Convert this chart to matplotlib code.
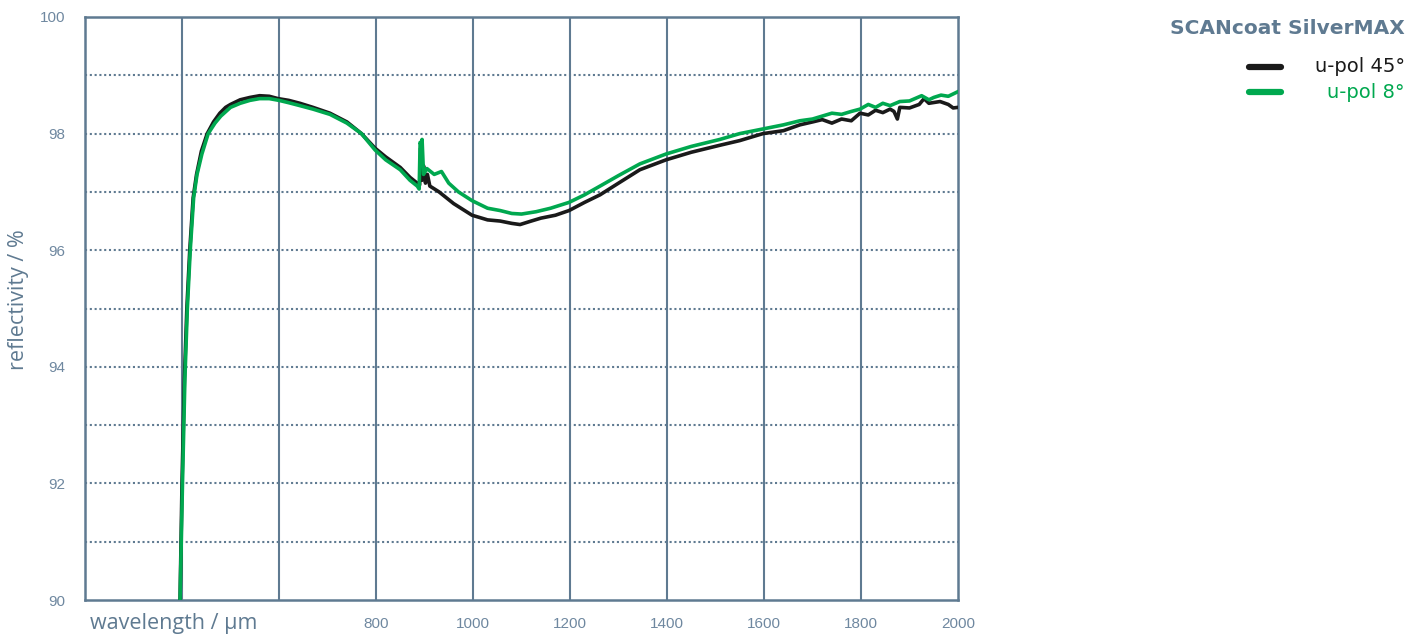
import matplotlib
matplotlib.use("Agg")
import matplotlib.pyplot as plt

# ---- data ----
wl_45 = [396, 400, 405, 410, 416, 423, 430, 440, 452, 465, 478, 490, 500, 520, 540, 560, 580, 598,
         620, 643, 670, 705, 740, 770, 798, 820, 850, 870, 885, 890, 892, 895, 898, 902, 906, 911,
         930, 960, 998, 1030, 1056, 1080, 1097, 1120, 1140, 1170, 1198, 1230, 1262, 1300, 1344,
         1398, 1450, 1509, 1550, 1598, 1640, 1674, 1700, 1720, 1740, 1760, 1780, 1798, 1815, 1830,
         1845, 1860, 1868, 1875, 1880, 1900, 1920, 1930, 1940, 1963, 1980, 1990, 2000]
r_45 = [90.0, 92.0, 93.8, 95.0, 96.0, 96.9, 97.3, 97.7, 98.0, 98.2, 98.35, 98.45, 98.5, 98.58, 98.62,
        98.65, 98.64, 98.6, 98.57, 98.52, 98.45, 98.35, 98.2, 98.0, 97.75, 97.6, 97.42, 97.25, 97.15,
        97.12, 97.75, 97.2, 97.45, 97.15, 97.3, 97.1, 97.0, 96.8, 96.6, 96.52, 96.5, 96.46, 96.44, 96.5,
        96.55, 96.6, 96.68, 96.82, 96.95, 97.15, 97.38, 97.55, 97.68, 97.8, 97.88, 98.0, 98.05, 98.15,
        98.2, 98.24, 98.18, 98.25, 98.22, 98.35, 98.32, 98.4, 98.36, 98.42, 98.38, 98.25, 98.45, 98.44,
        98.5, 98.6, 98.52, 98.55, 98.5, 98.44, 98.45]

wl_8 = [396, 401, 406, 411, 417, 424, 431, 441, 454, 468, 480, 500, 520, 540, 560, 580, 600, 620,
        643, 670, 705, 740, 770, 798, 820, 850, 870, 885, 889, 891, 893, 895, 898, 905, 920, 935, 950,
        970, 998, 1030, 1056, 1080, 1100, 1130, 1160, 1198, 1230, 1262, 1300, 1344, 1398, 1450, 1509,
        1550, 1598, 1640, 1674, 1700, 1720, 1740, 1760, 1780, 1798, 1815, 1830, 1845, 1860, 1880,
        1900, 1925, 1940, 1950, 1965, 1980, 2000]
r_8 = [90.0, 92.0, 93.8, 95.0, 96.0, 96.9, 97.3, 97.65, 98.0, 98.18, 98.3, 98.45, 98.52, 98.57, 98.6,
       98.6, 98.57, 98.53, 98.48, 98.42, 98.33, 98.18, 98.0, 97.72, 97.55, 97.38, 97.2, 97.1, 97.05,
       97.85, 97.8, 97.9, 97.3, 97.4, 97.3, 97.35, 97.15, 97.0, 96.85, 96.72, 96.68, 96.63, 96.62,
       96.66, 96.72, 96.82, 96.95, 97.1, 97.28, 97.48, 97.65, 97.78, 97.9, 98.0, 98.08, 98.15, 98.22,
       98.25, 98.3, 98.35, 98.33, 98.38, 98.42, 98.5, 98.45, 98.52, 98.48, 98.55, 98.56, 98.65, 98.58,
       98.62, 98.66, 98.64, 98.72]

x_ticks = [800, 1000, 1200, 1400, 1600, 1800, 2000]
y_ticks = [90, 92, 94, 96, 98, 100]
title = "SCANcoat SilverMAX"
labels = ["u-pol 45°", "u-pol 8°"]
colors = ["#1a1a1a", "#00a84f"]

axc = "#5f7a91"
txtc = "#6f88a0"

fig = plt.figure(figsize=(14.1, 6.35), dpi=100)
ax = fig.add_axes([85/1410, 1-600/635, (958-85)/1410, (600-17)/635])
ax.set_xlim(200, 2000)
ax.set_ylim(90, 100)

for x in range(400, 2000, 200):
    ax.axvline(x, color=axc, lw=1.5, zorder=1)
for y in range(91, 100):
    ax.axhline(y, color=axc, lw=1.5, ls=(0, (1, 1.3)), zorder=1)

ax.plot(wl_45, r_45, color=colors[0], lw=2.6, zorder=3)
ax.plot(wl_8, r_8, color=colors[1], lw=2.6, zorder=4)

for s in ax.spines.values():
    s.set_color(axc)
    s.set_linewidth(1.8)

ax.set_xticks(x_ticks)
ax.set_yticks(y_ticks)
ax.tick_params(length=0, colors=txtc, labelsize=11)
for lab in ax.get_xticklabels() + ax.get_yticklabels():
    lab.set_fontfamily("Liberation Sans")
    lab.set_color(txtc)
ax.tick_params(axis="y", pad=14)
ax.tick_params(axis="x", pad=12)

fig.text(90/1410, 1-623/635, "wavelength / µm", fontsize=15.5, color=axc,
         family="Open Sans", va="center", ha="left")
fig.text(19/1410, 1-300/635, "reflectivity / %", fontsize=15.5, color=axc,
         family="Open Sans", va="center", ha="center", rotation=90)

fig.text(1405/1410, 1-28/635, title, fontsize=14.5, color=axc, weight="semibold",
         family="DejaVu Sans", va="center", ha="right")

for i, (lab, c) in enumerate(zip(labels, colors)):
    yy = 1 - (67 + 25*i)/635
    fig.add_artist(plt.Line2D([1249/1410, 1281/1410], [yy, yy], color=c, lw=4.5,
                              solid_capstyle="round", transform=fig.transFigure))
    fig.text(1405/1410, yy, lab, fontsize=14, color=c, family="DejaVu Sans",
             va="center", ha="right")

fig.savefig("out.png", dpi=100)
